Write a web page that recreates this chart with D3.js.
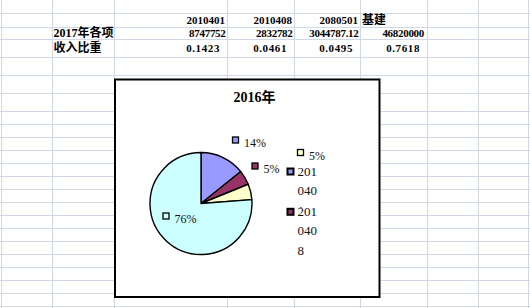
<!DOCTYPE html>
<html><head><meta charset="utf-8">
<script src="https://cdn.jsdelivr.net/npm/d3@7"></script>
<style>
html,body{margin:0;padding:0;background:#fff;overflow:hidden}
svg{display:block}
</style></head>
<body><svg id="c" width="530" height="308"></svg>
<script>
// ---- data ----
const categories = ["2010401", "2010408", "2080501", "基建"];
const amounts = ["8747752", "2832782", "3044787.12", "46820000"];
const ratios = [0.1423, 0.0461, 0.0495, 0.7618];
const rowLabels = ["2017年各项", "收入比重"];
const chartTitle = "2016年";
const colors = ["#9999FF", "#993366", "#FFFFCC", "#CCFFFF"];

const svg = d3.select("#c");
const W = 530, H = 308;
const cellFont = "'Liberation Serif','Noto Sans CJK SC',serif";

// ---- spreadsheet grid ----
const colEdges = [1, 52, 114, 227, 294, 360, 427, 478, 528];
const rowEdges = [13.3, 26.7, 39.3, 57.3, 75.3, 93.3, 111.3];
for (let y = 124.3; y < H; y += 13) rowEdges.push(y);
const grid = svg.append("g").attr("stroke", "#d0d7e5").attr("stroke-width", 1);
colEdges.forEach(x => grid.append("line").attr("x1", Math.round(x) + 0.5).attr("x2", Math.round(x) + 0.5).attr("y1", 0).attr("y2", H));
rowEdges.forEach(y => grid.append("line").attr("y1", Math.round(y) + 0.5).attr("y2", Math.round(y) + 0.5).attr("x1", 0).attr("x2", W));

// ---- cell text ----
const cells = svg.append("g").attr("font-family", cellFont).attr("font-weight", "bold")
  .attr("font-size", 11).attr("fill", "#000");
const baseHeader = 24, baseAmt = 36.7, baseRatio = 51.7;
categories.forEach((c, i) => {
  const isNum = /^\d/.test(c);
  cells.append("text")
    .attr("x", isNum ? colEdges[i + 3] - 2 : colEdges[i + 2] + 2)
    .attr("y", baseHeader)
    .attr("font-size", isNum ? 11 : 12)
    .attr("text-anchor", isNum ? "end" : "start")
    .text(c);
});
amounts.forEach((a, i) => {
  cells.append("text").attr("x", colEdges[i + 3] - (i === 3 ? 3 : 1.5)).attr("y", baseAmt)
    .attr("text-anchor", "end").attr("letter-spacing", -0.3).text(a);
});
const fmtRatio = d3.format(".4f");
ratios.forEach((r, i) => {
  cells.append("text").attr("x", colEdges[i + 3] - 7).attr("y", baseRatio)
    .attr("text-anchor", "end").attr("letter-spacing", 0.6).text(fmtRatio(r));
});
svg.append("clipPath").attr("id", "col1").append("rect")
  .attr("x", colEdges[1]).attr("y", 0).attr("width", colEdges[2] - colEdges[1]).attr("height", 80);
rowLabels.forEach((t, i) => {
  cells.append("text").attr("clip-path", "url(#col1)").attr("font-size", 12)
    .attr("x", colEdges[1] + 1.5).attr("y", i === 0 ? baseAmt : baseRatio).text(t);
});

// ---- chart object ----
const box = { x: 115, y: 79.5, w: 264.5, h: 217.5 };
svg.append("rect").attr("x", box.x).attr("y", box.y).attr("width", box.w).attr("height", box.h)
  .attr("fill", "#fff").attr("stroke", "#000").attr("stroke-width", 2);

svg.append("text").attr("x", 233.5).attr("y", 101.5)
  .attr("font-family", cellFont).attr("font-weight", "bold").attr("font-size", 14)
  .attr("fill", "#000").text(chartTitle);

const cx = 201, cy = 203.5, R = 51;
const pie = d3.pie().sort(null).value(d => d);
const arcs = pie(ratios);
const arc = d3.arc().innerRadius(0).outerRadius(R);
const pg = svg.append("g").attr("transform", `translate(${cx},${cy})`);
pg.selectAll("path").data(arcs).join("path")
  .attr("d", arc).attr("fill", (d, i) => colors[i])
  .attr("stroke", "#000").attr("stroke-width", 1.4).attr("stroke-linejoin", "round");

// data labels (square key + percent), placed relative to each slice
const fmtPct = d3.format(".0%");
const labelOffsets = [[31, -67], [50.5, -41], [96, -54.5], [-38.5, 9]];
const lg = svg.append("g").attr("font-family", "'Liberation Serif',serif").attr("font-size", 12).attr("fill", "#111");
arcs.forEach((a, i) => {
  const sx = cx + labelOffsets[i][0], sy = cy + labelOffsets[i][1];
  lg.append("rect").attr("x", sx + 0.5).attr("y", sy + 0.5).attr("width", 6).attr("height", 6)
    .attr("fill", colors[i]).attr("stroke", "#000").attr("stroke-width", 1.3);
  lg.append("text").attr("x", sx + 12).attr("y", sy + 10.5).text(fmtPct(a.data));
});

// legend (narrow; names wrap every 3 chars, only first entries fit)
const legX = 287, legY0 = 168, lineH = 19.4, entryH = 2 * lineH + 1.5, legBottom = 250;
const leg = svg.append("g").attr("font-family", "'Liberation Serif',serif").attr("font-size", 13).attr("fill", "#111");
let y = legY0;
categories.forEach((c, i) => {
  if (y + 8 > legBottom) return;
  const last = y + entryH + 8 > legBottom;
  const cid = "legclip" + i;
  svg.append("clipPath").attr("id", cid).append("rect")
    .attr("x", legX - 2).attr("y", y - 8).attr("width", 60)
    .attr("height", last ? 60 : entryH + 7.7);
  const g = leg.append("g").attr("clip-path", `url(#${cid})`);
  g.append("rect").attr("x", legX + 0.5).attr("y", y + 0.5).attr("width", 6).attr("height", 6)
    .attr("fill", colors[i]).attr("stroke", "#000").attr("stroke-width", 2);
  const chunks = c.match(/.{1,3}/g);
  chunks.forEach((t, k) => {
    g.append("text").attr("x", legX + 10.5).attr("y", y + 7.7 + k * lineH).text(t);
  });
  y += entryH;
});
</script>
</body></html>
